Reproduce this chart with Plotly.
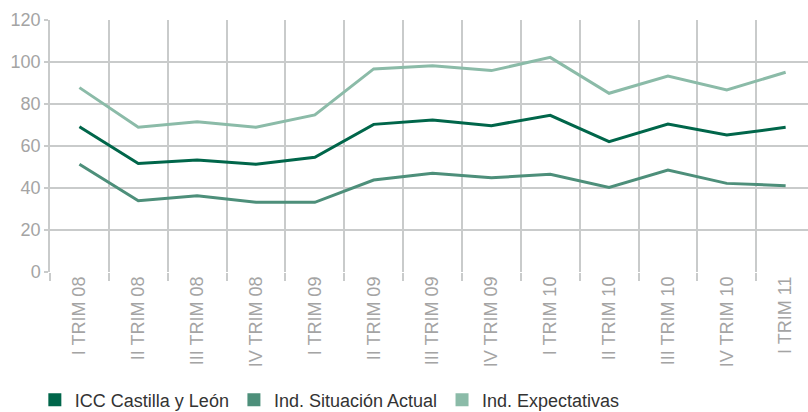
import plotly.graph_objects as go

categories = ["I TRIM 08", "II TRIM 08", "III TRIM 08", "IV TRIM 08",
              "I TRIM 09", "II TRIM 09", "III TRIM 09", "IV TRIM 09",
              "I TRIM 10", "II TRIM 10", "III TRIM 10", "IV TRIM 10",
              "I TRIM 11"]

icc = [69.2, 51.7, 53.3, 51.3, 54.6, 70.3, 72.4, 69.7, 74.6, 62.1, 70.5, 65.2, 68.9]
situacion = [51.3, 33.9, 36.3, 33.2, 33.2, 43.8, 47.0, 44.9, 46.5, 40.3, 48.6, 42.2, 41.1]
expectativas = [87.8, 68.9, 71.6, 68.9, 74.8, 96.7, 98.2, 95.9, 102.2, 85.1, 93.3, 86.7, 95.1]

series_names = ["ICC Castilla y León", "Ind. Situación Actual", "Ind. Expectativas"]
series_colors = ["#00664a", "#4d8f7a", "#8bbba8"]
series_values = [icc, situacion, expectativas]

FONT = "Liberation Sans, Arial, sans-serif"
GRID = "#c9cbcb"

fig = go.Figure()
for name, color, vals in zip(series_names, series_colors, series_values):
    fig.add_trace(go.Scatter(x=categories, y=vals, mode="lines", name=name,
                             line=dict(color=color, width=3), showlegend=False,
                             hoverinfo="x+y+name"))
for name, color in zip(series_names, series_colors):
    fig.add_trace(go.Scatter(x=[None], y=[None], mode="markers", name=name,
                             marker=dict(symbol="square", size=13, color=color),
                             showlegend=True))

fig.update_layout(
    width=808, height=412,
    margin=dict(l=50, r=0, t=20, b=140, autoexpand=False),
    paper_bgcolor="white", plot_bgcolor="white",
    font=dict(family=FONT, size=18, color="#a4a4a4"),
    legend=dict(orientation="h", x=-0.02, xanchor="left", y=-0.582, yanchor="bottom",
                font=dict(family=FONT, size=18, color="#333333"),
                itemwidth=30, tracegroupgap=0, bgcolor="rgba(0,0,0,0)"),
    xaxis=dict(type="category", range=[-0.5, 12.38], tickson="boundaries",
               showgrid=True, gridcolor=GRID, gridwidth=1.5,
               ticks="outside", ticklen=8, tickcolor=GRID, tickwidth=1.5,
               tickangle=-90, tickfont=dict(family=FONT, size=18, color="#a4a4a4"),
               showline=False, zeroline=False, automargin=False),
    yaxis=dict(range=[0, 120], dtick=20, tick0=0,
               showgrid=True, gridcolor=GRID, gridwidth=1.5,
               ticks="outside", ticklen=4, tickcolor=GRID, tickwidth=1.5,
               showline=True, linecolor=GRID, linewidth=1.5,
               tickfont=dict(family=FONT, size=18, color="#a4a4a4"),
               zeroline=False, automargin=False),
)

fig.write_html("out.html", config={"displayModeBar": False},
               post_script="document.body.style.margin='0';document.body.style.overflow='hidden';")
